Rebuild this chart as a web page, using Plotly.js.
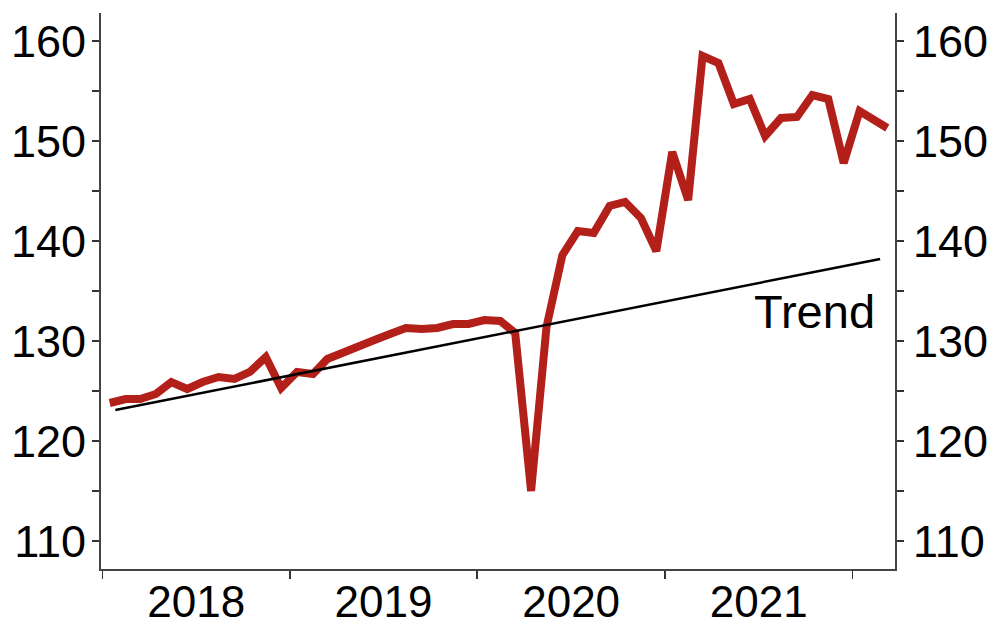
<!DOCTYPE html>
<html>
<head>
<meta charset="utf-8">
<script src="https://cdn.plot.ly/plotly-3.0.1.min.js"></script>
<style>html,body{margin:0;padding:0;background:#fff;}#chart{width:993px;height:626px;}</style>
</head>
<body>
<div id="chart"></div>
<script>
// Monthly index values, Jan 2018 – Mar 2022
const months = [
  '2018-01-15','2018-02-15','2018-03-15','2018-04-15','2018-05-15','2018-06-15',
  '2018-07-15','2018-08-15','2018-09-15','2018-10-15','2018-11-15','2018-12-15',
  '2019-01-15','2019-02-15','2019-03-15','2019-04-15','2019-05-15','2019-06-15',
  '2019-07-15','2019-08-15','2019-09-15','2019-10-15','2019-11-15','2019-12-15',
  '2020-01-15','2020-02-15','2020-03-15','2020-04-15','2020-05-15','2020-06-15',
  '2020-07-15','2020-08-15','2020-09-15','2020-10-15','2020-11-15','2020-12-15',
  '2021-01-15','2021-02-15','2021-03-15','2021-04-15','2021-05-15','2021-06-15',
  '2021-07-15','2021-08-15','2021-09-15','2021-10-15','2021-11-15','2021-12-15',
  '2022-01-15','2022-02-15','2022-03-10'
];
const values = [
  123.8, 124.2, 124.2, 124.7, 125.9, 125.2,
  125.9, 126.4, 126.2, 126.9, 128.4, 125.3,
  126.9, 126.7, 128.2, 128.9, 129.5, 130.1,
  130.7, 131.3, 131.2, 131.3, 131.7, 131.7,
  132.1, 132.0, 130.8, 115.0, 131.4, 138.6,
  141.0, 140.8, 143.5, 143.9, 142.3, 139.0,
  148.9, 144.1, 158.5, 157.8, 153.7, 154.2,
  150.5, 152.3, 152.4, 154.6, 154.2, 147.8,
  153.0, 151.9, 151.3
];
// Linear trend end points
const trendDates = ['2018-01-26', '2022-02-24'];
const trendValues = [123.1, 138.2];
const trendLabel = 'Trend';
const yearTick0 = '2018-01-01';

const font = 'Liberation Sans, Arial, sans-serif';
const yRange = [107.2, 162.8];

const yCommon = {
  range: yRange,
  tickvals: [110, 120, 130, 140, 150, 160],
  ticks: 'outside', ticklen: 7, tickwidth: 1.5, tickcolor: '#333',
  minor: {dtick: 5, tick0: 0, ticks: 'outside', ticklen: 7, tickwidth: 1.5, tickcolor: '#333', showgrid: false},
  showline: true, linecolor: '#444', linewidth: 2,
  showgrid: false, zeroline: false,
  tickfont: {family: font, size: 45, color: '#000'},
  fixedrange: true
};

const data = [
  {x: months, y: values, type: 'scatter', mode: 'lines',
   line: {color: '#B3201A', width: 8, shape: 'linear'}, hoverinfo: 'skip', xaxis: 'x', yaxis: 'y'},
  {x: trendDates, y: trendValues, type: 'scatter', mode: 'lines',
   line: {color: '#000', width: 2.5}, hoverinfo: 'skip', xaxis: 'x', yaxis: 'y2'}
];

const layout = {
  width: 993, height: 626,
  margin: {l: 101, r: 98, t: 13, b: 57, pad: 0},
  paper_bgcolor: '#fff', plot_bgcolor: '#fff',
  showlegend: false,
  xaxis: {
    type: 'date',
    range: ['2017-12-29', '2022-03-25'],
    tick0: yearTick0, dtick: 'M12',
    ticklabelmode: 'period', tickformat: '%Y',
    ticks: 'outside', ticklen: 8, tickwidth: 1.5, tickcolor: '#333',
    showline: true, linecolor: '#444', linewidth: 2,
    showgrid: false, zeroline: false,
    ticklabelstandoff: -15,
    tickfont: {family: font, size: 44, color: '#000'},
    fixedrange: true
  },
  yaxis: Object.assign({}, yCommon, {side: 'left', ticklabelstandoff: -3}),
  yaxis2: Object.assign({}, yCommon, {side: 'right', overlaying: 'y'}),
  annotations: [{
    x: '2022-02-18', y: 133.0, xref: 'x', yref: 'y',
    text: trendLabel, showarrow: false, xanchor: 'right', yanchor: 'middle',
    font: {family: font, size: 47, color: '#000'}
  }]
};

Plotly.newPlot('chart', data, layout, {displayModeBar: false, staticPlot: true});
</script>
</body>
</html>
